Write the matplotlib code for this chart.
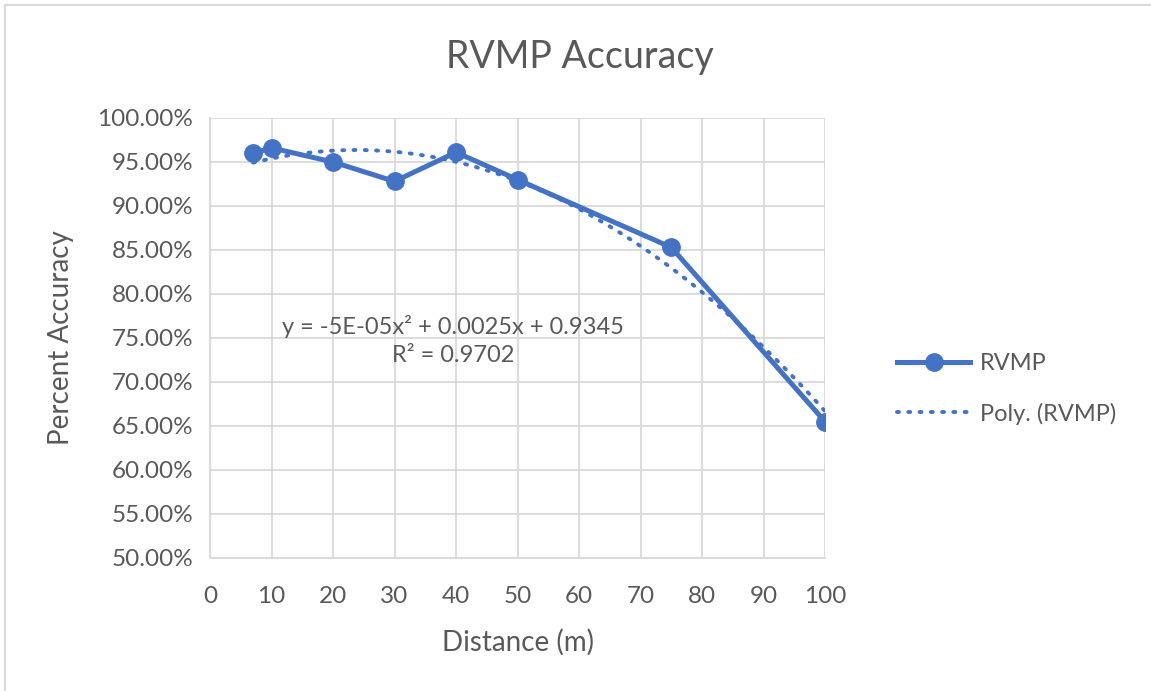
import numpy as np
import matplotlib
matplotlib.use("Agg")
import matplotlib.pyplot as plt
from matplotlib.ticker import FuncFormatter, MultipleLocator
from matplotlib.lines import Line2D

distance = [7, 10, 20, 30, 40, 50, 75, 100]
accuracy = [0.960, 0.966, 0.950, 0.928, 0.961, 0.930, 0.853, 0.655]
series_name = "RVMP"
trend_name = "Poly. (RVMP)"
eq_text = "y = -5E-05x² + 0.0025x + 0.9345"
r2_text = "R² = 0.9702"

BLUE = "#4472C4"
TXT = "#595959"
GRID = "#D9D9D9"
plt.rcParams['font.family'] = ['Lato', 'DejaVu Sans']

W, H = 1151, 691
fig = plt.figure(figsize=(W/100, H/100), dpi=100)
ax = fig.add_axes([210/W, 1-558/H, (825-210)/W, (558-118)/H])

# trendline
coef = np.polyfit(distance, accuracy, 2)
xs = np.linspace(min(distance), max(distance), 200)
ax.plot(xs, np.polyval(coef, xs), color=BLUE, lw=2.8, ls=(0, (0.5, 2.4)),
        dash_capstyle='round', label=trend_name, zorder=3)
ax.plot(distance, accuracy, color=BLUE, lw=3.6, marker='o', markersize=12.5,
        label=series_name, zorder=4)

ax.set_xlim(0, 100)
ax.set_ylim(0.5, 1.0)
ax.xaxis.set_major_locator(MultipleLocator(10))
ax.yaxis.set_major_locator(MultipleLocator(0.05))
ax.yaxis.set_major_formatter(FuncFormatter(lambda v, p: f"{v*100:.2f}%"))
ax.grid(True, color=GRID, lw=1.3)
ax.set_axisbelow(True)
for s in ax.spines.values():
    s.set_visible(False)
ax.spines['left'].set_visible(True)
ax.spines['bottom'].set_visible(True)
ax.spines['left'].set_color(GRID)
ax.spines['bottom'].set_color(GRID)
ax.spines['left'].set_linewidth(1.3)
ax.spines['bottom'].set_linewidth(1.3)
ax.tick_params(length=0, labelsize=17.5, colors=TXT, pad=12)
ax.tick_params(axis='x', pad=20)

ax.set_xlabel("Distance (m)", fontsize=20, color=TXT, labelpad=16)
ax.set_ylabel("Percent Accuracy", fontsize=20, color=TXT, labelpad=17)
fig.text(580/W, 1-57/H, "RVMP Accuracy", fontsize=27, color=TXT,
         ha='center', va='center')

fig.text(453/W, 1-326/H, eq_text, fontsize=17, color=TXT, ha='center', va='center')
fig.text(453/W, 1-356/H, r2_text, fontsize=17, color=TXT, ha='center', va='center')

handles, labels = ax.get_legend_handles_labels()
leg = fig.legend(handles[::-1], labels[::-1], loc='center left',
                 bbox_to_anchor=(876/W, 1-389/H), frameon=False,
                 fontsize=17, labelcolor=TXT, handlelength=3.1,
                 handletextpad=0.4, labelspacing=1.2)

fig.add_artist(Line2D([4.5/W, 4.5/W], [0, 1-4.5/H], color=GRID, lw=1.5))
fig.add_artist(Line2D([4.5/W, 1], [1-4.5/H, 1-4.5/H], color=GRID, lw=1.5))

fig.savefig("out.png", dpi=100, facecolor='white')
